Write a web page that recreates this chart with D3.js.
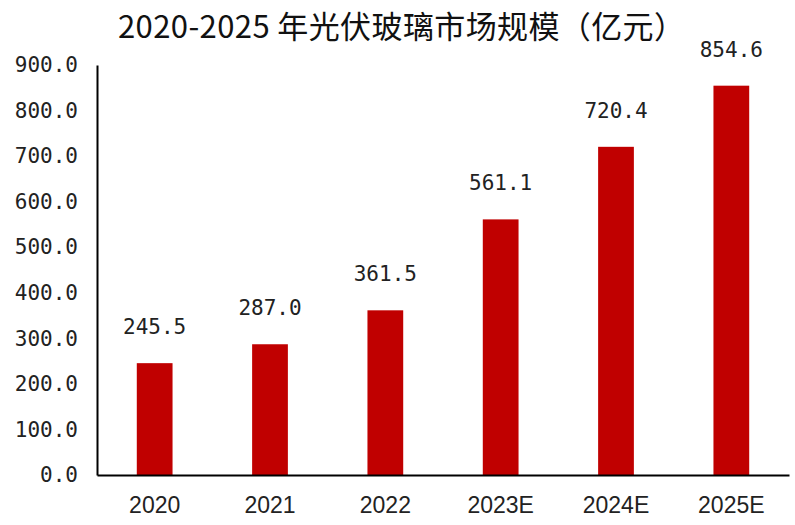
<!DOCTYPE html>
<html>
<head>
<meta charset="utf-8">
<script src="https://cdn.jsdelivr.net/npm/d3@7"></script>
<style>
  body { margin: 0; background: #fff; }
</style>
</head>
<body>
<div id="chart"></div>
<script>
var titleText = '2020-2025 年光伏玻璃市场规模（亿元）';
var years = ['2020', '2021', '2022', '2023E', '2024E', '2025E'];
var values = [245.5, 287.0, 361.5, 561.1, 720.4, 854.6];
var yTicks = [0, 100, 200, 300, 400, 500, 600, 700, 800, 900];

var width = 795;
var height = 525;
var margin = {top: 65, right: 6, bottom: 50, left: 97};

var svg = d3.select('#chart').append('svg')
  .attr('width', width)
  .attr('height', height);

var x = d3.scaleBand()
  .domain(years)
  .range([margin.left, width - margin.right])
  .paddingInner(0.69)
  .paddingOuter(0.345);

var y = d3.scaleLinear()
  .domain([0, 900])
  .range([height - margin.bottom, margin.top]);

svg.append('text')
  .attr('x', 118)
  .attr('y', 38)
  .attr('font-family', '"Noto Sans CJK SC", sans-serif')
  .attr('font-size', 31)
  .attr('textLength', 567)
  .attr('lengthAdjust', 'spacing')
  .attr('fill', '#111')
  .text(titleText);

// bars
svg.selectAll('rect.bar')
  .data(values)
  .enter().append('rect')
  .attr('class', 'bar')
  .attr('x', function(d, i) { return x(years[i]); })
  .attr('y', function(d) { return y(d); })
  .attr('width', x.bandwidth())
  .attr('height', function(d) { return y(0) - y(d); })
  .attr('fill', '#c00000');

// value labels
svg.selectAll('text.val')
  .data(values)
  .enter().append('text')
  .attr('class', 'val')
  .attr('x', function(d, i) { return x(years[i]) + x.bandwidth() / 2; })
  .attr('y', function(d) { return y(d) - 29; })
  .attr('text-anchor', 'middle')
  .attr('font-family', '"DejaVu Sans Mono", monospace')
  .attr('font-size', 21)
  .attr('fill', '#222')
  .text(function(d) { return d.toFixed(1); });

// y axis
var yAxis = svg.append('g')
  .attr('transform', 'translate(' + margin.left + ',0)')
  .call(d3.axisLeft(y).tickValues(yTicks).tickSize(0).tickPadding(19)
    .tickFormat(function(d) { return d.toFixed(1); }));
yAxis.select('.domain').attr('stroke', '#000').attr('stroke-width', 2);
yAxis.selectAll('text')
  .attr('font-family', '"DejaVu Sans Mono", monospace')
  .attr('font-size', 21)
  .attr('fill', '#222');

// x axis
var xAxis = svg.append('g')
  .attr('transform', 'translate(0,' + y(0) + ')')
  .call(d3.axisBottom(x).tickSize(0).tickPadding(22));
xAxis.select('.domain').attr('stroke', '#000').attr('stroke-width', 2);
xAxis.selectAll('text')
  .attr('font-family', '"Liberation Sans", Arial, sans-serif')
  .attr('font-size', 23)
  .attr('fill', '#222');
</script>
</body>
</html>
